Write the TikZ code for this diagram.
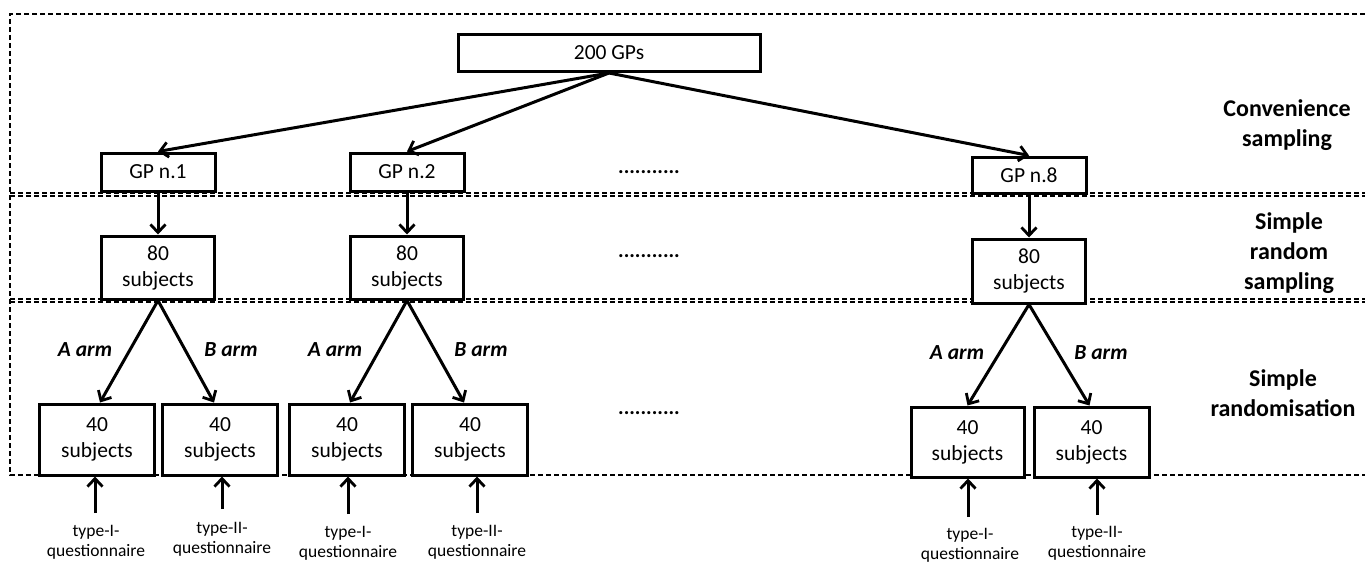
\documentclass[tikz,border=0pt]{standalone}
\usepackage{fontspec}
\setmainfont{Carlito}
\usetikzlibrary{arrows.meta}
\begin{document}
\begin{tikzpicture}[x=1pt,y=-1pt,
  box/.style={draw, line width=3pt, fill=white, inner sep=0pt, align=center, font=\fontsize{21.5}{26}\selectfont},
  arr/.style={line width=3pt, -{Straight Barb[length=8pt,width=15pt,line width=2.8pt]}},
  frame/.style={dash pattern=on 5pt off 3pt, line width=1.1pt},
  stage/.style={font=\bfseries\fontsize{24}{30}\selectfont, align=center},
  arm/.style={font=\bfseries\itshape\fontsize{21.5}{25}\selectfont},
  qlab/.style={font=\fontsize{17.5}{20}\selectfont, align=center, inner sep=0pt},
  dotlab/.style={font=\bfseries\fontsize{21}{25}\selectfont}
]
\useasboundingbox (0,0) rectangle (1365,562);
% dashed frame
\draw[frame] (1365,14) -- (10,14) -- (10,475) -- (1365,475);
\draw[frame] (10,193) -- (1365,193);
\draw[frame] (10,196) -- (1365,196);
\draw[frame] (10,299) -- (1365,299);
\draw[frame] (10,302) -- (1365,302);
% nodes
\node[box, minimum width=302pt, minimum height=37pt] (top) at (609,53) {200 GPs};
\node[box, minimum width=114pt, minimum height=38pt] (gp1) at (158,172) {GP n.1};
\node[box, minimum width=114pt, minimum height=38pt] (gp2) at (407,172) {GP n.2};
\node[box, minimum width=114pt, minimum height=36pt] (gp8) at (1029,175) {GP n.8};
\node[box, minimum width=113pt, minimum height=63pt] (s1) at (158,267.5) {80\\subjects};
\node[box, minimum width=113pt, minimum height=63pt] (s2) at (407,267.5) {80\\subjects};
\node[box, minimum width=113pt, minimum height=64pt] (s8) at (1029,271) {80\\subjects};
\node[box, minimum width=115pt, minimum height=71pt] (b1) at (97,439.5) {40\\subjects};
\node[box, minimum width=115pt, minimum height=71pt] (b2) at (220,439.5) {40\\subjects};
\node[box, minimum width=115pt, minimum height=71pt] (b3) at (347,439.5) {40\\subjects};
\node[box, minimum width=115pt, minimum height=71pt] (b4) at (470,439.5) {40\\subjects};
\node[box, minimum width=113pt, minimum height=70pt] (b5) at (967.5,442) {40\\subjects};
\node[box, minimum width=115pt, minimum height=70pt] (b6) at (1091.5,442) {40\\subjects};
% dots
\node[dotlab] (d1) at (649,172) {...........};
\node[dotlab] (d2) at (649,256) {...........};
\node[dotlab] (d3) at (649,413) {...........};
% stage labels
\node[stage] (st1) at (1287,125) {Convenience\\sampling};
\node[stage] (st2) at (1289,253) {Simple\\random\\sampling};
\node[stage] (st3) at (1283,393) {Simple\\randomisation};
% arm labels
\node[arm] (a1) at (85,350) {A arm};
\node[arm] (a2) at (231,350) {B arm};
\node[arm] (a3) at (335,350) {A arm};
\node[arm] (a4) at (481,350) {B arm};
\node[arm] (a5) at (957,353) {A arm};
\node[arm] (a6) at (1101,353) {B arm};
% arrows
\draw[arr] (top.south) -- (gp1.north);
\draw[arr] (top.south) -- (gp2.north);
\draw[arr] (top.south) -- (gp8.north);
\draw[arr] (gp1.south) -- (s1.north);
\draw[arr] (gp2.south) -- (s2.north);
\draw[arr] (gp8.south) -- (s8.north);
\draw[arr] (s1.south) -- ([xshift=3pt]b1.north);
\draw[arr] (s1.south) -- ([xshift=-6pt]b2.north);
\draw[arr] (s2.south) -- ([xshift=3pt]b3.north);
\draw[arr] (s2.south) -- ([xshift=-6pt]b4.north);
\draw[arr] (s8.south) -- (b5.north);
\draw[arr] (s8.south) -- ([xshift=-2pt]b6.north);
% questionnaire labels
\node[qlab] (q1) at (96,542) {type-I-\\questionnaire};
\node[qlab] (q2) at (222,539) {type-II-\\questionnaire};
\node[qlab] (q3) at (348,543) {type-I-\\questionnaire};
\node[qlab] (q4) at (477,542) {type-II-\\questionnaire};
\node[qlab] (q5) at (970,545) {type-I-\\questionnaire};
\node[qlab] (q6) at (1097,543) {type-II-\\questionnaire};
\coordinate (c1) at (95,513);
\coordinate (c2) at (222,509);
\coordinate (c3) at (348,514);
\coordinate (c4) at (477,513);
\coordinate (c5) at (968,517);
\coordinate (c6) at (1097,515);
\draw[arr] (c1) -- (c1 |- b1.south);
\draw[arr] (c2) -- (c2 |- b2.south);
\draw[arr] (c3) -- (c3 |- b3.south);
\draw[arr] (c4) -- (c4 |- b4.south);
\draw[arr] (c5) -- (c5 |- b5.south);
\draw[arr] (c6) -- (c6 |- b6.south);
\end{tikzpicture}
\end{document}
